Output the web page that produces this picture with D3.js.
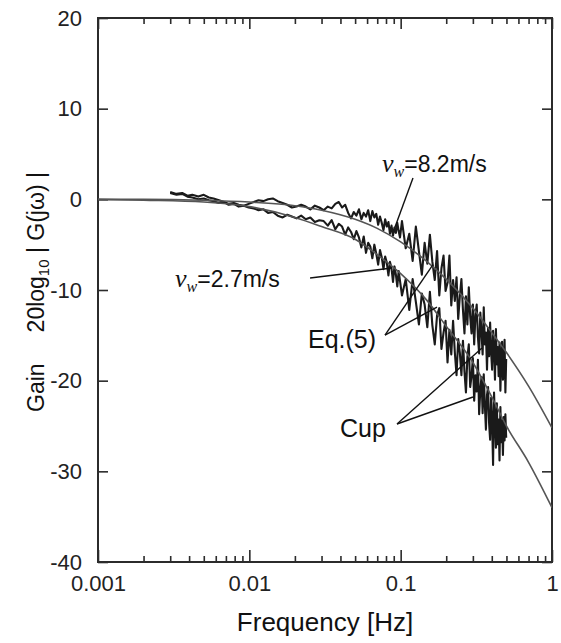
<!DOCTYPE html>
<html>
<head>
<meta charset="utf-8">
<script src="https://cdnjs.cloudflare.com/ajax/libs/d3/7.8.5/d3.min.js"></script>
<style>
  body { margin: 0; background: #fff; }
  svg { display: block; }
</style>
</head>
<body>
<svg id="chart"></svg>
<script>
// x: frequency [Hz], y: gain [dB]
const xTickValues = [0.001, 0.01, 0.1, 1];
const xTickLabels = ["0.001", "0.01", "0.1", "1"];
const yTickValues = [-40, -30, -20, -10, 0, 10, 20];

// Eq.(5) model curves
const eqFreq = [0.001, 0.002, 0.005, 0.01, 0.02, 0.03, 0.05, 0.07, 0.1, 0.15, 0.2, 0.3, 0.4, 0.5, 0.7, 1];
const eqHigh = [0, 0, -0.1, -0.3, -0.7, -1.2, -2.2, -3.2, -4.7, -6.9, -8.8, -12.0, -14.7, -16.9, -20.6, -25.2]; // vw = 8.2 m/s
const eqLow = [0, -0.1, -0.3, -0.8, -2.0, -3.0, -4.4, -6.1, -8.2, -11.2, -14.0, -18.0, -21.8, -25.0, -29.0, -34.0]; // vw = 2.7 m/s

// Cup anemometer measurements
const cupFreq = [
  0.0030, 0.0033, 0.0036, 0.0039, 0.0042, 0.0046, 0.0050, 0.0054, 0.0058, 0.0063,
  0.0068, 0.0073, 0.0079, 0.0085, 0.0092, 0.0099, 0.0107, 0.0115, 0.0124, 0.0133,
  0.0143, 0.0154, 0.0166, 0.0178, 0.0191, 0.0205, 0.0220, 0.0236, 0.0253, 0.0271, 0.0290,
  0.031, 0.033, 0.035, 0.037, 0.039, 0.041, 0.043, 0.045, 0.047, 0.049,
  0.051, 0.053, 0.055, 0.057, 0.059, 0.061, 0.063, 0.065, 0.067, 0.069,
  0.071, 0.073, 0.075, 0.077, 0.079, 0.081, 0.083, 0.085, 0.087, 0.089,
  0.091, 0.093, 0.095, 0.097, 0.099,
  0.102, 0.108, 0.114, 0.120, 0.126, 0.132, 0.138, 0.144, 0.150, 0.156,
  0.162, 0.168, 0.174, 0.180, 0.186, 0.192, 0.198, 0.204, 0.210, 0.216,
  0.222, 0.228, 0.234, 0.240, 0.246, 0.252, 0.258, 0.264, 0.270, 0.276,
  0.282, 0.288, 0.294, 0.300, 0.306, 0.312, 0.318, 0.324, 0.330, 0.336,
  0.342, 0.348, 0.354, 0.360, 0.366, 0.372, 0.378, 0.384, 0.390, 0.396,
  0.402, 0.408, 0.414, 0.420, 0.426, 0.432, 0.438, 0.444, 0.450, 0.456,
  0.462, 0.468, 0.474, 0.480, 0.486, 0.492, 0.498
];
// vw = 8.2 m/s
const cupHigh = [
  0.8, 0.6, 0.7, 0.4, 0.5, 0.3, 0.5, 0.2, 0.1, -0.1,
  -0.3, -0.5, -0.4, -0.6, -0.7, -0.5, -0.3, -0.1, -0.2, 0.0,
  0.1, -0.2, -0.4, -0.6, -0.9, -0.8, -0.6, -0.8, -1.1, -0.7, -0.9,
  -1.2, -0.8, -1.0, -0.5, -0.3, -0.9, -0.6, -1.5, -2.1, -1.4,
  -1.8, -1.1, -2.2, -1.5, -1.9, -1.2, -2.4, -1.3, -2.0, -1.6,
  -2.8, -1.9, -2.6, -3.4, -2.2, -3.0, -2.5, -3.8, -2.9, -4.0,
  -3.1, -3.7, -2.6, -3.5, -4.2,
  -2.4, -5.4, -3.8, -6.8, -3.0, -5.7, -8.3, -4.8, -7.1, -3.9,
  -6.9, -8.9, -5.7, -10.6, -7.6, -6.2, -10.1, -9.2, -6.2, -11.7,
  -8.9, -11.2, -8.6, -13.2, -10.7, -8.8, -12.2, -14.8, -10.7, -13.8,
  -9.7, -12.9, -14.8, -11.6, -16.0, -12.8, -11.6, -15.2, -17.0, -12.5,
  -14.6, -17.1, -11.9, -16.0, -14.7, -18.8, -14.2, -17.3, -13.6, -16.8,
  -18.8, -14.5, -16.6, -19.9, -14.3, -18.2, -16.3, -19.5, -15.8, -21.1,
  -17.4, -15.7, -19.9, -18.8, -15.5, -21.3, -17.6
];
// vw = 2.7 m/s
const cupLow = [
  0.7, 0.5, 0.6, 0.3, 0.2, 0.0, 0.1, -0.1, -0.2, -0.4,
  -0.3, -0.6, -0.5, -0.8, -0.7, -0.9, -1.0, -1.2, -1.1, -1.5,
  -1.4, -1.8, -2.0, -1.7, -1.9, -2.1, -1.8, -2.2, -2.0, -2.5, -2.3,
  -2.4, -2.9, -2.3, -3.3, -2.7, -3.0, -3.9, -3.1, -3.6, -4.4,
  -3.5, -4.2, -5.3, -4.1, -5.9, -4.8, -5.2, -6.5, -5.0, -6.0,
  -7.2, -5.6, -6.4, -7.7, -6.3, -7.0, -8.4, -6.9, -7.6, -9.1,
  -7.4, -8.3, -9.6, -7.9, -9.0,
  -10.6, -8.8, -12.2, -8.8, -11.3, -13.8, -10.4, -11.6, -14.1, -10.2,
  -13.9, -16.0, -12.8, -12.0, -16.5, -14.7, -13.4, -18.0, -14.4, -17.1,
  -13.4, -16.9, -19.4, -15.4, -16.9, -19.4, -15.6, -19.0, -21.3, -17.4,
  -16.0, -20.7, -19.5, -17.5, -22.2, -19.4, -21.2, -17.7, -23.7, -21.0,
  -19.6, -23.6, -19.3, -22.7, -25.4, -21.6, -20.7, -24.7, -26.5, -21.9,
  -24.6, -29.3, -21.3, -24.5, -27.4, -22.5, -27.0, -24.3, -28.8, -22.9,
  -26.8, -24.4, -28.2, -24.0, -26.6, -23.7, -26.3
];

const width = 561, height = 643;
const margin = { top: 18, right: 9, bottom: 81, left: 98 };
const w = width - margin.left - margin.right;
const h = height - margin.top - margin.bottom;

const sans = "'Liberation Sans', Arial, Helvetica, sans-serif";
const serif = "'Liberation Serif', 'Times New Roman', serif";

const svg = d3.select("#chart").attr("width", width).attr("height", height);
const g = svg.append("g").attr("transform", `translate(${margin.left},${margin.top})`);

const x = d3.scaleLog().domain([0.001, 1]).range([0, w]);
const y = d3.scaleLinear().domain([-40, 20]).range([h, 0]);

// minor ticks 2..9 in each decade
const minorTicks = [];
[0.001, 0.01, 0.1].forEach(d => { for (let k = 2; k <= 9; k++) minorTicks.push(d * k); });

const axisColor = "#2b2b2b";

function styleAxis(sel) {
  sel.select(".domain").remove();
  sel.selectAll("line").attr("stroke", axisColor).attr("stroke-width", 1.6);
  sel.selectAll("text").attr("fill", "#222").style("font-family", sans).style("font-size", "22px");
}

// bottom axis
g.append("g").attr("transform", `translate(0,${h})`)
  .call(d3.axisBottom(x).tickValues(xTickValues).tickSizeInner(-12).tickSizeOuter(0).tickPadding(13)
    .tickFormat((d, i) => xTickLabels[i]))
  .call(styleAxis);
g.append("g").attr("transform", `translate(0,${h})`)
  .call(d3.axisBottom(x).tickValues(minorTicks).tickSizeInner(-6).tickSizeOuter(0).tickFormat(""))
  .call(styleAxis);
// top axis
g.append("g")
  .call(d3.axisTop(x).tickValues(xTickValues).tickSizeInner(-11).tickSizeOuter(0).tickFormat(""))
  .call(styleAxis);
g.append("g")
  .call(d3.axisTop(x).tickValues(minorTicks).tickSizeInner(-6).tickSizeOuter(0).tickFormat(""))
  .call(styleAxis);
// left axis
g.append("g")
  .call(d3.axisLeft(y).tickValues(yTickValues).tickSizeInner(-10).tickSizeOuter(0).tickPadding(16)
    .tickFormat(d => String(d)))
  .call(styleAxis);
// right axis
g.append("g").attr("transform", `translate(${w},0)`)
  .call(d3.axisRight(y).tickValues(yTickValues).tickSizeInner(-10).tickSizeOuter(0).tickFormat(""))
  .call(styleAxis);

// frame
g.append("rect").attr("x", 0).attr("y", 0).attr("width", w).attr("height", h)
  .attr("fill", "none").attr("stroke", axisColor).attr("stroke-width", 2);

const clip = g.append("clipPath").attr("id", "plot-clip");
clip.append("rect").attr("width", w).attr("height", h);

const plot = g.append("g").attr("clip-path", "url(#plot-clip)");

const line = d3.line().x(d => x(d[0])).y(d => y(d[1]));
const smooth = d3.line().x(d => x(d[0])).y(d => y(d[1])).curve(d3.curveMonotoneX);

// measured cup data
[cupHigh, cupLow].forEach(series => {
  plot.append("path")
    .datum(cupFreq.map((f, i) => [f, series[i]]))
    .attr("d", line)
    .attr("fill", "none")
    .attr("stroke", "#1a1a1a")
    .attr("stroke-width", 2.1)
    .attr("stroke-linejoin", "round");
});

// Eq.(5)
[eqHigh, eqLow].forEach(series => {
  plot.append("path")
    .datum(eqFreq.map((f, i) => [f, series[i]]))
    .attr("d", smooth)
    .attr("fill", "none")
    .attr("stroke", "#555")
    .attr("stroke-width", 1.6);
});

// annotations, positions given in data units [freq, dB]
const leaders = [
  [[0.1206, 2.35], [0.0918, -3.05]],
  [[0.0252, -8.68], [0.0876, -7.58]],
  [[0.0788, -14.97], [0.1635, -7.2]],
  [[0.0788, -14.97], [0.1738, -11.88]],
  [[0.0946, -24.78], [0.3446, -16.4]],
  [[0.0946, -24.78], [0.3006, -21.8]]
];
leaders.forEach(l => {
  g.append("line")
    .attr("x1", x(l[0][0])).attr("y1", y(l[0][1]))
    .attr("x2", x(l[1][0])).attr("y2", y(l[1][1]))
    .attr("stroke", "#111").attr("stroke-width", 1.4);
});

function windLabel(pos, value) {
  const t = g.append("text").attr("x", x(pos[0])).attr("y", y(pos[1])).attr("fill", "#111");
  t.append("tspan").style("font-family", serif).style("font-style", "italic").style("font-size", "26px").text("v");
  t.append("tspan").style("font-family", serif).style("font-style", "italic").style("font-size", "16px")
    .attr("dy", 5).text("w");
  t.append("tspan").style("font-family", sans).style("font-size", "23px").attr("dy", -5).text("=" + value);
}
windLabel([0.0753, 3.0], "8.2m/s");
windLabel([0.00323, -9.67], "2.7m/s");

g.append("text").attr("x", x(0.0244)).attr("y", y(-16.4))
  .style("font-family", sans).style("font-size", "25px").attr("fill", "#111").text("Eq.(5)");
g.append("text").attr("x", x(0.0397)).attr("y", y(-26.2))
  .style("font-family", sans).style("font-size", "25px").attr("fill", "#111").text("Cup");

// axis titles
svg.append("text")
  .attr("x", margin.left + w / 2).attr("y", 631)
  .attr("text-anchor", "middle")
  .style("font-family", sans).style("font-size", "26px").attr("fill", "#111")
  .text("Frequency [Hz]");

const yl = svg.append("text")
  .attr("transform", "translate(44,412) rotate(-90)")
  .style("font-family", sans).style("font-size", "23px").attr("fill", "#111");
yl.append("tspan").text("Gain");
yl.append("tspan").attr("dx", 31).text("20log");
yl.append("tspan").style("font-size", "15px").attr("dy", 5).text("10");
yl.append("tspan").attr("dy", -5).text(" | G(jω) | ");
</script>
</body>
</html>
